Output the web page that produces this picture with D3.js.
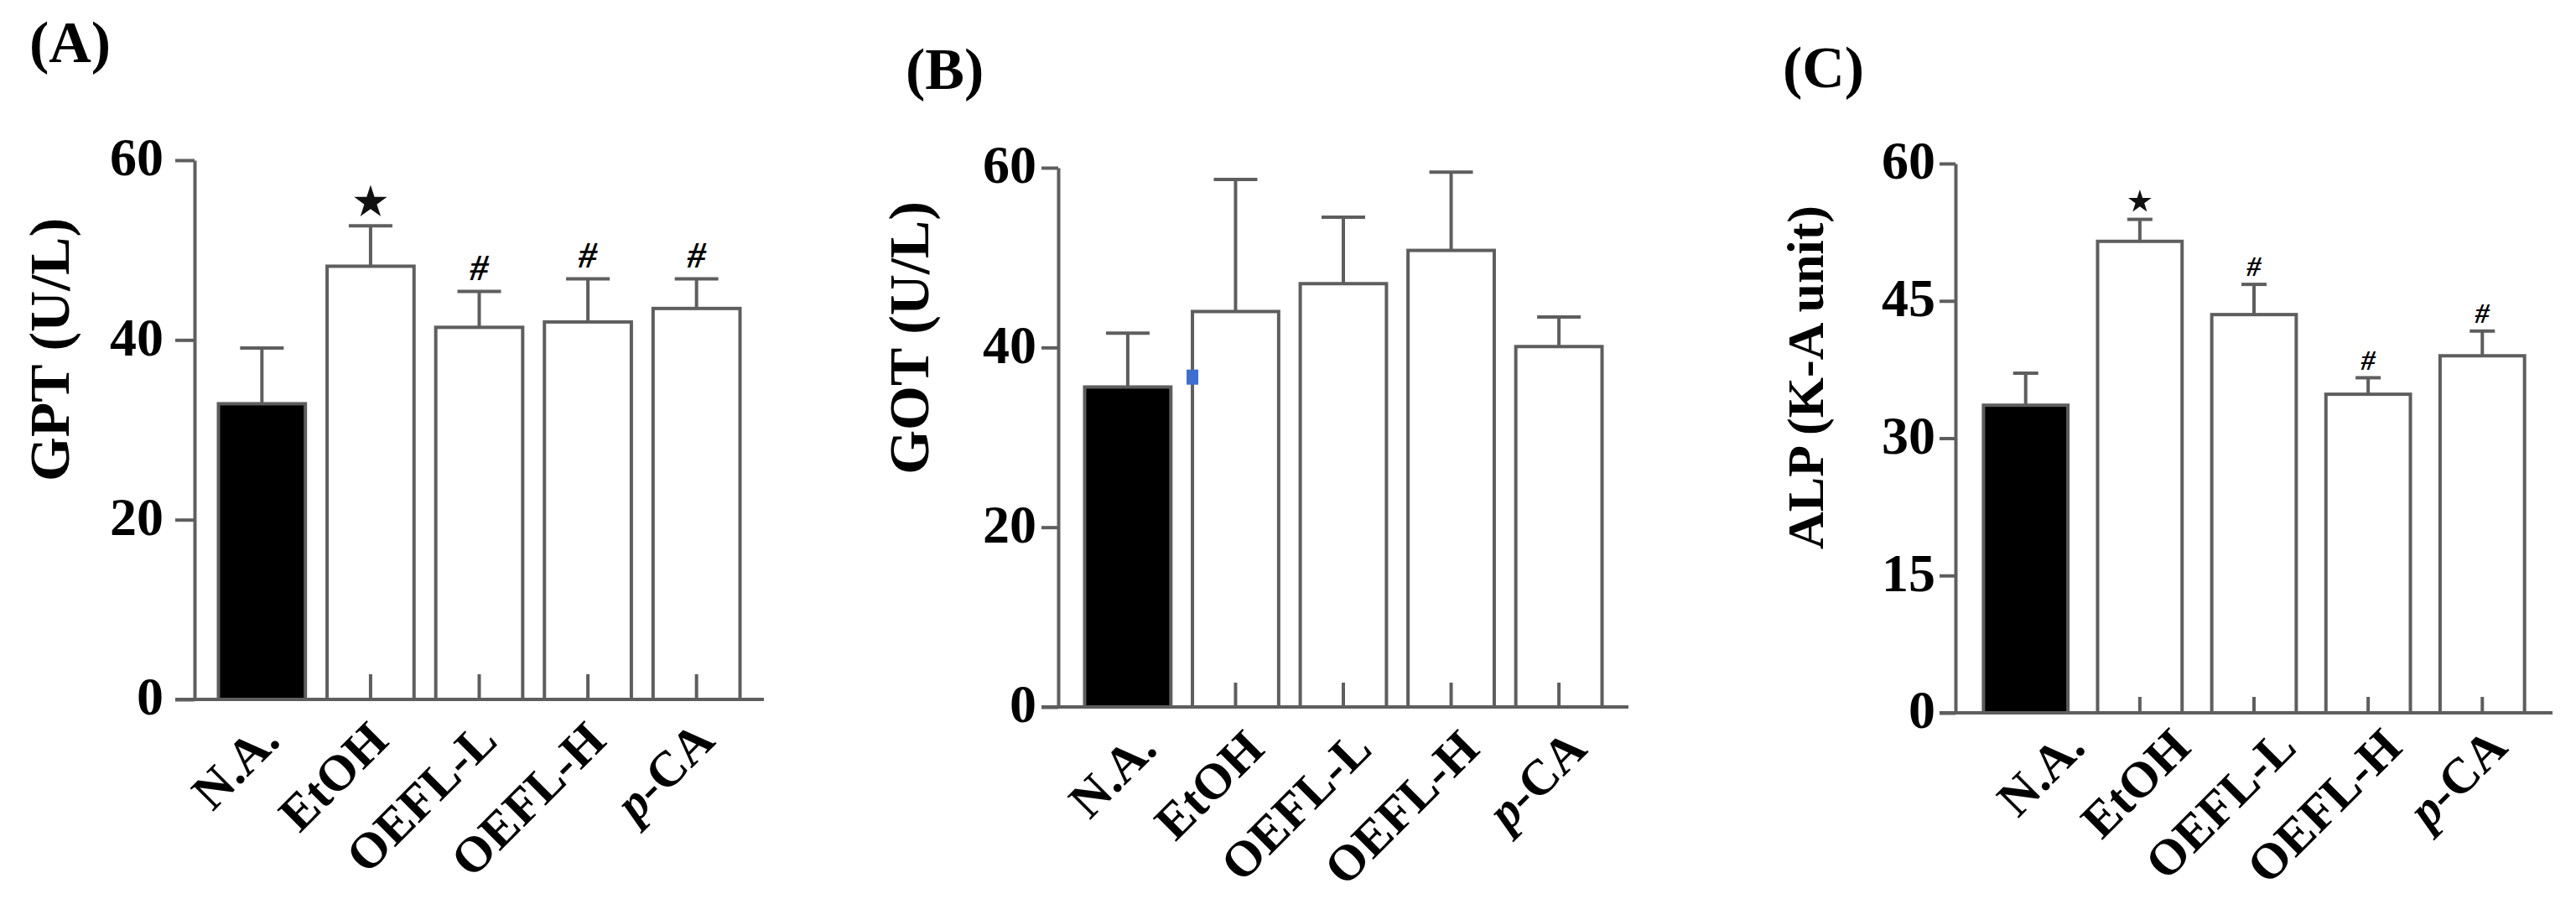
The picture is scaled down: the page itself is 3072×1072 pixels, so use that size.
<!DOCTYPE html>
<meta charset="utf-8">
<style>
    body {
        margin: 0;
        background: #ffffff;
    }

    svg {
        display: block;
    }

    text {
        font-family: "Liberation Serif", "DejaVu Serif", serif;
        font-weight: bold;
        fill: #000000;
    }

    .bar {
        stroke: #5e5e5e;
        stroke-width: 4;
    }

    .err,
    .axisLine {
        stroke: #5e5e5e;
        stroke-width: 4;
        fill: none;
    }
</style>

<body>
    <svg width="3072" height="1072"></svg>
    <script src="https://cdnjs.cloudflare.com/ajax/libs/d3/7.8.5/d3.min.js"></script>
    <script>
        // groups on the x axis
        var groups = ["N.A.", "EtOH", "OEFL-L", "OEFL-H", "p-CA"];

        // (A) GPT, U/L
        var gptMean = [32.9, 48.2, 41.4, 42.0, 43.5];
        var gptErr = [6.2, 4.5, 4.0, 4.8, 3.3];
        var gptMarks = ["", "*", "#", "#", "#"];
        var gptTicks = [0, 20, 40, 60];

        // (B) GOT, U/L
        var gotMean = [35.6, 44.0, 47.1, 50.8, 40.1];
        var gotErr = [6.0, 14.7, 7.4, 8.7, 3.3];
        var gotMarks = ["", "", "", "", ""];
        var gotTicks = [0, 20, 40, 60];

        // (C) ALP, K-A unit
        var alpMean = [33.6, 51.5, 43.5, 34.8, 39.0];
        var alpErr = [3.5, 2.4, 3.3, 1.8, 2.7];
        var alpMarks = ["", "*", "#", "#", "#"];
        var alpTicks = [0, 15, 30, 45, 60];

        // small blue dot left in panel B of the original figure
        var gotDot = { group: "EtOH", value: 36.7 };

        var panels = [
            { letter: "(A)", title: "GPT (U/L)", mean: gptMean, err: gptErr, marks: gptMarks, ticks: gptTicks,
              axisX: 232, top: 191, bottom: 834, right: 911, tick: 23, inTick: 30, padIn: 0.2, padOut: 0.22,
              labGap: 14, capW: 52, markGap: 28, markSize: 44, starSize: 480,
              letterX: 35, letterY: 74, titleX: 82, titleY: 417, titleSize: 68,
              labRange: [336, 855], labY: 886 },
            { letter: "(B)", title: "GOT (U/L)", mean: gotMean, err: gotErr, marks: gotMarks, ticks: gotTicks,
              axisX: 1262, top: 200, bottom: 843, right: 1942, tick: 20, inTick: 29, padIn: 0.2, padOut: 0.245,
              labGap: 6, capW: 52, markGap: 28, markSize: 44, starSize: 480,
              letterX: 1080, letterY: 106, titleX: 1107, titleY: 403, titleSize: 68,
              labRange: [1382, 1895], labY: 896 },
            { letter: "(C)", title: "ALP (K-A unit)", mean: alpMean, err: alpErr, marks: alpMarks, ticks: alpTicks,
              axisX: 2332, top: 195, bottom: 850, right: 3044, tick: 19, inTick: 19, padIn: 0.26, padOut: 0.245,
              labGap: 5, capW: 30, markGap: 21, markSize: 34, starSize: 240,
              letterX: 2126, letterY: 104, titleX: 2174, titleY: 450, titleSize: 62,
              labRange: [2489, 2993], labY: 894 }
        ];

        var svg = d3.select("svg");

        panels.forEach(function(p) {
            var g = svg.append("g");

            var y = d3.scaleLinear().domain([0, 60]).range([p.bottom, p.top]);
            var x = d3.scaleBand().domain(groups).range([p.axisX, p.right])
                .paddingInner(p.padIn).paddingOuter(p.padOut);
            var xl = d3.scalePoint().domain(groups).range(p.labRange);

            var rows = groups.map(function(name, i) {
                return { name: name, mean: p.mean[i], err: p.err[i], mark: p.marks[i] };
            });

            // ticks pointing up from the x axis (hidden by the black bar)
            var xAxis = g.append("g")
                .attr("transform", "translate(0," + y(0) + ")")
                .call(d3.axisBottom(x).tickSize(-p.inTick).tickSizeOuter(0).tickFormat(""));
            xAxis.select(".domain").remove();
            xAxis.selectAll("line").attr("class", "axisLine");

            // bars
            g.selectAll(".bar")
                .data(rows)
                .enter().append("rect")
                .attr("class", "bar")
                .attr("x", function(d) { return x(d.name); })
                .attr("y", function(d) { return y(d.mean); })
                .attr("width", x.bandwidth())
                .attr("height", function(d) { return y(0) - y(d.mean); })
                .attr("fill", function(d, i) { return i == 0 ? "#000000" : "none"; });

            // upper error bars
            var eb = g.selectAll(".errg")
                .data(rows)
                .enter().append("g")
                .attr("transform", function(d) { return "translate(" + (x(d.name) + x.bandwidth() / 2) + ",0)"; });
            eb.append("line")
                .attr("class", "err")
                .attr("y1", function(d) { return y(d.mean); })
                .attr("y2", function(d) { return y(d.mean + d.err); });
            eb.append("line")
                .attr("class", "err")
                .attr("x1", -p.capW / 2)
                .attr("x2", p.capW / 2)
                .attr("y1", function(d) { return y(d.mean + d.err); })
                .attr("y2", function(d) { return y(d.mean + d.err); });

            // significance marks
            eb.filter(function(d) { return d.mark == "#"; })
                .append("text")
                .attr("y", function(d) { return y(d.mean + d.err) - p.markGap + p.markSize * 0.33; })
                .attr("text-anchor", "middle")
                .style("font-size", p.markSize + "px")
                .style("font-style", "italic")
                .text(function(d) { return d.mark; });
            eb.filter(function(d) { return d.mark == "*"; })
                .append("path")
                .attr("transform", function(d) { return "translate(0," + (y(d.mean + d.err) - p.markGap) + ")"; })
                .attr("d", d3.symbol().type(d3.symbolStar).size(p.starSize))
                .attr("fill", "#111111");

            // x axis line
            g.append("line")
                .attr("class", "axisLine")
                .attr("x1", p.axisX - p.tick)
                .attr("x2", p.right)
                .attr("y1", y(0))
                .attr("y2", y(0));

            // y axis
            var yAxis = g.append("g")
                .attr("transform", "translate(" + p.axisX + ",0)")
                .call(d3.axisLeft(y).tickValues(p.ticks).tickSize(p.tick).tickSizeOuter(0).tickPadding(p.labGap));
            yAxis.select(".domain").attr("class", "axisLine domain");
            yAxis.selectAll("line").attr("class", "axisLine");
            yAxis.selectAll("text")
                .style("font-size", "64px")
                .style("font-family", "'Liberation Serif', serif")
                .style("font-weight", "bold")
                .attr("fill", "#000000")
                .attr("dy", "0.28em");

            // rotated group labels
            var lab = g.selectAll(".lab")
                .data(groups)
                .enter().append("text")
                .attr("text-anchor", "end")
                .attr("transform", function(d) { return "translate(" + xl(d) + "," + p.labY + ") rotate(-45)"; })
                .style("font-size", "60px");
            lab.each(function(d) {
                var t = d3.select(this);
                if (d.indexOf("p-") == 0) {
                    t.append("tspan").style("font-style", "italic").text("p");
                    t.append("tspan").text(d.slice(1));
                } else {
                    t.text(d);
                }
            });

            // y title
            g.append("text")
                .attr("text-anchor", "middle")
                .attr("transform", "translate(" + p.titleX + "," + p.titleY + ") rotate(-90)")
                .style("font-size", p.titleSize + "px")
                .text(p.title);

            // panel letter
            g.append("text")
                .attr("x", p.letterX)
                .attr("y", p.letterY)
                .style("font-size", "70px")
                .text(p.letter);

            if (p.letter == "(B)") {
                g.append("rect")
                    .attr("x", x(gotDot.group) - 7)
                    .attr("y", y(gotDot.value) - 9)
                    .attr("width", 14)
                    .attr("height", 18)
                    .attr("fill", "#3d6fd2");
            }
        });
    </script>
</body>
